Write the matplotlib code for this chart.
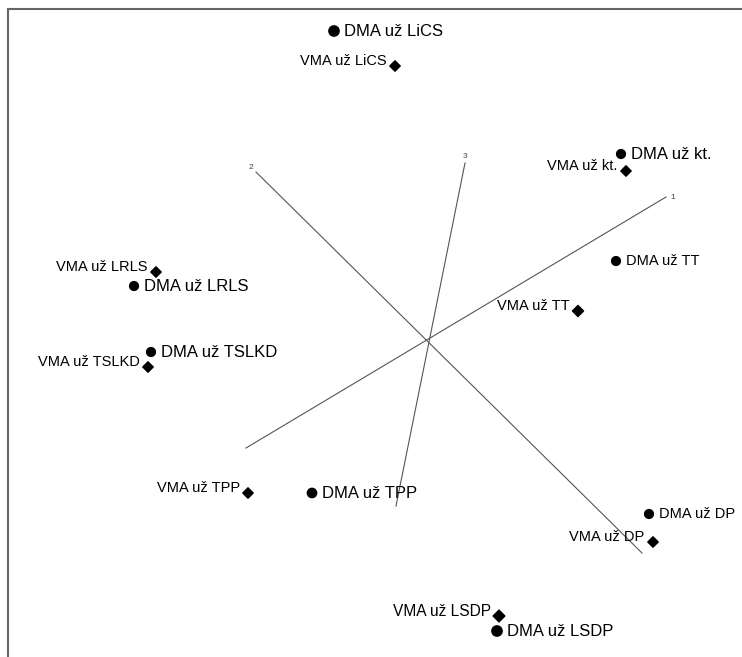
import matplotlib.pyplot as plt

plt.rcParams['font.family'] = ['Liberation Sans', 'DejaVu Sans']

# object scores (dimension 1 horizontal, dimension 2 vertical)
dma_labels = ['DMA už LiCS', 'DMA už kt.', 'DMA už TT', 'DMA už LRLS', 'DMA už TSLKD',
              'DMA už TPP', 'DMA už DP', 'DMA už LSDP']
dma_x = [-0.96, 1.91, 1.86, -2.96, -2.79, -1.18, 2.19, 0.67]
dma_y = [3.11, 1.88, 0.81, 0.56, -0.10, -1.51, -1.72, -2.89]
dma_size = [55, 40, 40, 40, 40, 45, 40, 55]
dma_font = [12, 12, 10.5, 12, 12, 12, 10.5, 12]

vma_labels = ['VMA už LiCS', 'VMA už kt.', 'VMA už TT', 'VMA už LRLS', 'VMA už TSLKD',
              'VMA už TPP', 'VMA už DP', 'VMA už LSDP']
vma_x = [-0.35, 1.96, 1.48, -2.74, -2.82, -1.82, 2.23, 0.69]
vma_y = [2.76, 1.71, 0.31, 0.70, -0.25, -1.51, -2.00, -2.74]
vma_size = [28, 28, 32, 28, 28, 28, 28, 36]
vma_font = [10.5, 10.5, 10.5, 10.5, 10.5, 10.5, 10.5, 11.2]

# biplot axes (start, end); the name is drawn at the end
axis_names = ['1', '2', '3']
axis_x0 = [-1.84, 2.12, -0.34]
axis_y0 = [-1.06, -2.11, -1.64]
axis_x1 = [2.36, -1.74, 0.35]
axis_y1 = [1.45, 1.70, 1.79]

fig = plt.figure(figsize=(7.42, 6.57), dpi=100)
ax = fig.add_axes([8 / 742, 0, 1 - 8 / 742, 1 - 9 / 657])
ax.set_xlim(-4.22, 3.12)
ax.set_ylim(-3.15, 3.33)

label_off = {'1': (3, 0), '2': (-2, 1), '3': (0, 2)}
label_ha = {'1': 'left', '2': 'right', '3': 'center'}
label_va = {'1': 'center', '2': 'bottom', '3': 'bottom'}
for name, x0, y0, x1, y1 in zip(axis_names, axis_x0, axis_y0, axis_x1, axis_y1):
    ax.plot([x0, x1], [y0, y1], color='#555555', lw=0.8)
    ax.annotate(name, (x1, y1), xytext=label_off[name], textcoords='offset points',
                fontsize=6, color='#444444', ha=label_ha[name], va=label_va[name])

ax.scatter(dma_x, dma_y, s=dma_size, marker='o', color='black', zorder=3)
ax.scatter(vma_x, vma_y, s=vma_size, marker='D', color='black', zorder=3)

for lab, x, y, fs in zip(dma_labels, dma_x, dma_y, dma_font):
    ax.annotate(lab, (x, y), xytext=(7, 0), textcoords='offset points',
                fontsize=fs, ha='left', va='center')
for lab, x, y, fs in zip(vma_labels, vma_x, vma_y, vma_font):
    ax.annotate(lab, (x, y), xytext=(-6, 3.5), textcoords='offset points',
                fontsize=fs, ha='right', va='center')

ax.set_xticks([])
ax.set_yticks([])
ax.spines['right'].set_visible(False)
ax.spines['bottom'].set_visible(False)
for s in ['left', 'top']:
    ax.spines[s].set_color('#666666')
    ax.spines[s].set_linewidth(1.5)

fig.savefig('out.png', dpi=100)
